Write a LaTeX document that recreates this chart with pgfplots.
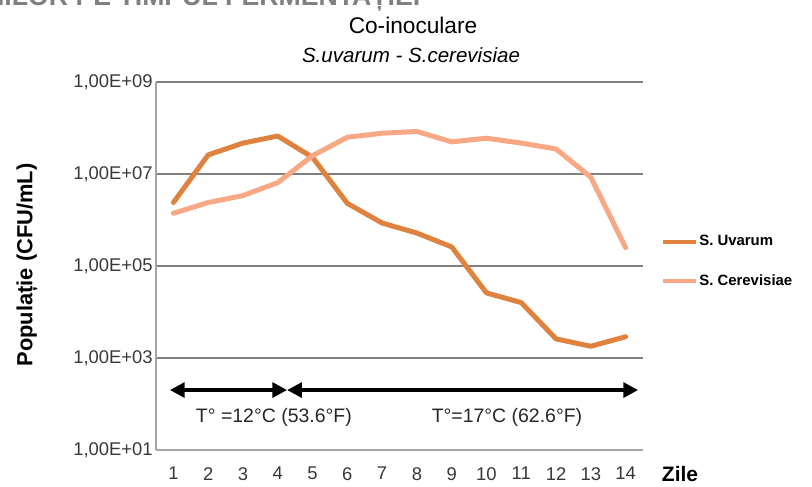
\documentclass[border=0pt]{standalone}
\usepackage{pgfplots}
\pgfplotsset{compat=1.18}
\usepackage{fontspec}
\setmainfont{Liberation Sans}
\usetikzlibrary{arrows.meta}

\definecolor{uvarum}{RGB}{224,130,63}
\definecolor{cerev}{RGB}{248,168,132}
\definecolor{gridc}{RGB}{128,128,128}
\definecolor{axisc}{RGB}{165,165,165}

\begin{document}
\begin{tikzpicture}[x=0.75pt,y=0.75pt]
\begin{axis}[
    at={(0,0)}, anchor=south west,
    scale only axis,
    width=365.25pt, height=276pt,
    xmin=0.5, xmax=14.5,
    ymode=log, ymin=10, ymax=1e9,
    xtick={1,...,14},
    ytick={1e1,1e3,1e5,1e7,1e9},
    yticklabels={{1,00E+01},{1,00E+03},{1,00E+05},{1,00E+07},{1,00E+09}},
    /pgf/number format/assume math mode=true,
    tick label style={font=\fontsize{13.8}{16}\selectfont, text=black!78},
    xticklabel style={yshift=-11.8pt, inner sep=1pt},
    yticklabel style={xshift=1pt},
    major tick length=0pt,
    ymajorgrids,
    grid style={draw=gridc, line width=1.5pt},
    axis lines*=left,
    axis line style={draw=axisc, line width=1.5pt, -},
    legend style={at={(1.037,0.512)}, anchor=west, draw=none, fill=none,
        font=\bfseries\fontsize{11.2}{13}\selectfont, row sep=18.5pt,
        inner sep=0pt, nodes={inner sep=1pt}},
    legend cell align=left,
    legend image code/.code={\draw[#1, line width=3pt, line cap=butt] (0pt,0pt) -- (24.5pt,0pt);},
    clip=false,
]
\addplot[uvarum, line width=3.75pt, line join=round, line cap=round] coordinates {
    (1,2.4e6) (2,2.6e7) (3,4.7e7) (4,6.7e7) (5,2.3e7) (6,2.3e6) (7,8.6e5)
    (8,5.2e5) (9,2.6e5) (10,2.6e4) (11,1.6e4) (12,2.6e3) (13,1.8e3) (14,2.9e3)
};
\addlegendentry{S. Uvarum}
\addplot[cerev, line width=3.75pt, line join=round, line cap=round] coordinates {
    (1,1.4e6) (2,2.4e6) (3,3.4e6) (4,6.5e6) (5,2.5e7) (6,6.3e7) (7,7.7e7)
    (8,8.4e7) (9,5e7) (10,6e7) (11,4.7e7) (12,3.5e7) (13,8.5e6) (14,2.5e5)
};
\addlegendentry{S. Cerevisiae}

\draw[line width=3pt, {Triangle[length=11pt,width=11pt]}-{Triangle[length=11pt,width=11pt]}]
    (axis cs:0.90,201) -- (axis cs:4.27,201);
\draw[line width=3pt, {Triangle[length=11pt,width=11pt]}-{Triangle[length=11pt,width=11pt]}]
    (axis cs:4.27,201) -- (axis cs:14.36,201);
\node[font=\fontsize{14.6}{17}\selectfont, text=black!85] at (axis cs:3.89,50) {T° =12°C (53.6°F)};
\node[font=\fontsize{14.6}{17}\selectfont, text=black!85] at (axis cs:10.59,50) {T°=17°C (62.6°F)};
\end{axis}

\node[font=\fontsize{17}{20}\selectfont] at (257,425) {Co-inoculare};
\node[font=\itshape\fontsize{15.4}{18}\selectfont] at (255,395) {S.uvarum - S.cerevisiae};
\node[font=\bfseries\fontsize{16.4}{19}\selectfont, rotate=90] at (-129,185) {Populație (CFU/mL)};
\node[font=\bfseries\fontsize{15.7}{18}\selectfont, inner sep=1pt] at (524,-24) {Zile};
\node[anchor=base east, font=\bfseries\fontsize{20}{24}\selectfont, text=gridc] at (269,444)
    {EVOLUȚIA DROJDIILOR PE TIMPUL FERMENTAȚIEI};

\pgfresetboundingbox
\path[use as bounding box] (-156,-36) rectangle (656,450);
\end{tikzpicture}
\end{document}
